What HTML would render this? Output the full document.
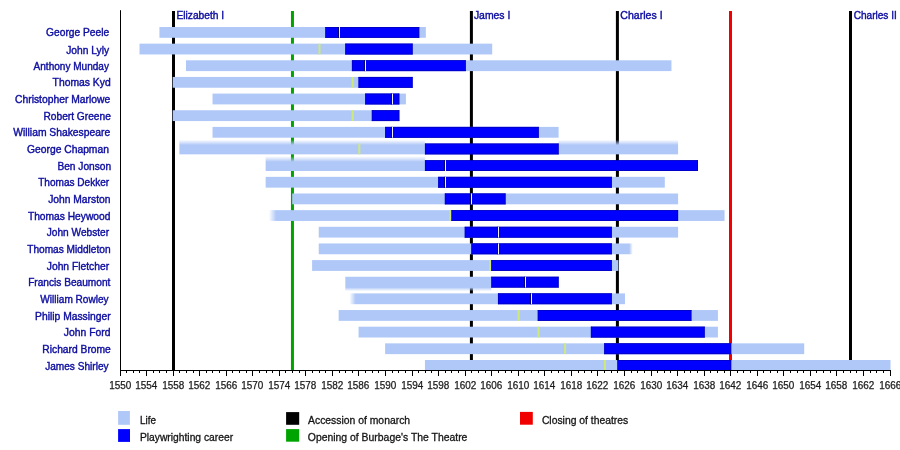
<!DOCTYPE html><html><head><meta charset="utf-8"><title>Playwrights timeline</title><style>
html,body{margin:0;padding:0;background:#fff;width:900px;height:450px;overflow:hidden;position:relative}
svg{display:block}
.tx{position:absolute;left:0;top:0;will-change:transform}
text{font-family:"Liberation Sans",Arial,Helvetica,sans-serif;font-size:10.3px}
.nm{fill:#0e0ea0;stroke:#0e0ea0;stroke-width:0.4px;text-anchor:end}
.mo{fill:#0e0ea0;stroke:#0e0ea0;stroke-width:0.4px}
.ax{fill:#1a1a1a;stroke:#1a1a1a;stroke-width:0.25px;text-anchor:middle;font-size:10.2px}
.lg{fill:#151515;stroke:#151515;stroke-width:0.3px}
</style></head><body>
<svg width="900" height="450" viewBox="0 0 900 450">
<defs>
<linearGradient id="fT" x1="0" y1="0" x2="0" y2="1"><stop offset="0" stop-color="#b0c8f8" stop-opacity="0"/><stop offset="1" stop-color="#b0c8f8" stop-opacity="1"/></linearGradient>
<linearGradient id="fB" x1="0" y1="0" x2="0" y2="1"><stop offset="0" stop-color="#b0c8f8" stop-opacity="1"/><stop offset="1" stop-color="#b0c8f8" stop-opacity="0"/></linearGradient>
<linearGradient id="fL" x1="0" y1="0" x2="1" y2="0"><stop offset="0" stop-color="#b0c8f8" stop-opacity="0"/><stop offset="1" stop-color="#b0c8f8" stop-opacity="1"/></linearGradient>
<linearGradient id="fR" x1="0" y1="0" x2="1" y2="0"><stop offset="0" stop-color="#b0c8f8" stop-opacity="1"/><stop offset="1" stop-color="#b0c8f8" stop-opacity="0"/></linearGradient>
</defs>
<rect width="900" height="450" fill="#fff"/>
<rect x="172.00" y="11.00" width="3" height="359.00" fill="#000"/>
<rect x="469.90" y="11.00" width="3" height="359.00" fill="#000"/>
<rect x="615.90" y="11.00" width="3" height="359.00" fill="#000"/>
<rect x="849.00" y="11.00" width="3" height="359.00" fill="#000"/>
<rect x="290.95" y="11.00" width="3" height="359.00" fill="#00a400"/>
<rect x="729.00" y="11.00" width="3" height="359.00" fill="#f00000"/>
<rect x="159.43" y="27.00" width="266.42" height="10.80" fill="#b0c8f8"/>
<rect x="325.38" y="27.00" width="93.83" height="10.80" fill="#0000ff"/>
<rect x="325.38" y="27.00" width="93.83" height="0.70" fill="#0000b4"/>
<rect x="325.38" y="37.10" width="93.83" height="0.70" fill="#0000b4"/>
<rect x="325.38" y="27.00" width="0.60" height="10.80" fill="#0000b4"/>
<rect x="418.51" y="27.00" width="0.70" height="10.80" fill="#0000b4"/>
<rect x="338.00" y="27.00" width="1.00" height="10.80" fill="#000070"/>
<rect x="339.00" y="27.00" width="1.00" height="10.80" fill="#f2f2ff"/>
<rect x="139.51" y="43.65" width="352.71" height="10.80" fill="#b0c8f8"/>
<rect x="318.49" y="43.65" width="2.00" height="10.80" fill="#cfe87c"/>
<rect x="345.29" y="43.65" width="67.28" height="10.80" fill="#0000ff"/>
<rect x="345.29" y="43.65" width="67.28" height="0.70" fill="#0000b4"/>
<rect x="345.29" y="53.75" width="67.28" height="0.70" fill="#0000b4"/>
<rect x="345.29" y="43.65" width="0.60" height="10.80" fill="#0000b4"/>
<rect x="411.87" y="43.65" width="0.70" height="10.80" fill="#0000b4"/>
<rect x="185.98" y="60.30" width="485.47" height="10.80" fill="#b0c8f8"/>
<rect x="351.93" y="60.30" width="113.74" height="10.80" fill="#0000ff"/>
<rect x="351.93" y="60.30" width="113.74" height="0.70" fill="#0000b4"/>
<rect x="351.93" y="70.40" width="113.74" height="0.70" fill="#0000b4"/>
<rect x="351.93" y="60.30" width="0.60" height="10.80" fill="#0000b4"/>
<rect x="464.97" y="60.30" width="0.70" height="10.80" fill="#0000b4"/>
<rect x="364.00" y="60.30" width="1.00" height="10.80" fill="#000070"/>
<rect x="365.00" y="60.30" width="1.00" height="10.80" fill="#f2f2ff"/>
<rect x="172.70" y="76.95" width="239.87" height="10.80" fill="#b0c8f8"/>
<rect x="351.68" y="76.95" width="2.00" height="10.80" fill="#cfe87c"/>
<rect x="358.57" y="76.95" width="54.00" height="10.80" fill="#0000ff"/>
<rect x="358.57" y="76.95" width="54.00" height="0.70" fill="#0000b4"/>
<rect x="358.57" y="87.05" width="54.00" height="0.70" fill="#0000b4"/>
<rect x="358.57" y="76.95" width="0.60" height="10.80" fill="#0000b4"/>
<rect x="411.87" y="76.95" width="0.70" height="10.80" fill="#0000b4"/>
<rect x="212.53" y="93.60" width="193.40" height="10.80" fill="#b0c8f8"/>
<rect x="365.20" y="93.60" width="34.09" height="10.80" fill="#0000ff"/>
<rect x="365.20" y="93.60" width="34.09" height="0.70" fill="#0000b4"/>
<rect x="365.20" y="103.70" width="34.09" height="0.70" fill="#0000b4"/>
<rect x="365.20" y="93.60" width="0.60" height="10.80" fill="#0000b4"/>
<rect x="398.59" y="93.60" width="0.70" height="10.80" fill="#0000b4"/>
<rect x="391.00" y="93.60" width="1.00" height="10.80" fill="#000070"/>
<rect x="392.00" y="93.60" width="1.00" height="10.80" fill="#f2f2ff"/>
<rect x="172.70" y="110.25" width="226.59" height="10.80" fill="#b0c8f8"/>
<rect x="351.68" y="110.25" width="2.00" height="10.80" fill="#cfe87c"/>
<rect x="371.84" y="110.25" width="27.45" height="10.80" fill="#0000ff"/>
<rect x="371.84" y="110.25" width="27.45" height="0.70" fill="#0000b4"/>
<rect x="371.84" y="120.35" width="27.45" height="0.70" fill="#0000b4"/>
<rect x="371.84" y="110.25" width="0.60" height="10.80" fill="#0000b4"/>
<rect x="398.59" y="110.25" width="0.70" height="10.80" fill="#0000b4"/>
<rect x="212.53" y="126.90" width="346.07" height="10.80" fill="#b0c8f8"/>
<rect x="385.12" y="126.90" width="153.57" height="10.80" fill="#0000ff"/>
<rect x="385.12" y="126.90" width="153.57" height="0.70" fill="#0000b4"/>
<rect x="385.12" y="137.00" width="153.57" height="0.70" fill="#0000b4"/>
<rect x="385.12" y="126.90" width="0.60" height="10.80" fill="#0000b4"/>
<rect x="537.99" y="126.90" width="0.70" height="10.80" fill="#0000b4"/>
<rect x="391.00" y="126.90" width="1.00" height="10.80" fill="#000070"/>
<rect x="392.00" y="126.90" width="1.00" height="10.80" fill="#f2f2ff"/>
<linearGradient id="g7" gradientUnits="userSpaceOnUse" x1="0" y1="139.80" x2="0" y2="145.00"><stop offset="0" stop-color="#b0c8f8" stop-opacity="0"/><stop offset="1" stop-color="#b0c8f8"/></linearGradient>
<rect x="179.34" y="139.80" width="245.60" height="14.55" fill="url(#g7)"/>
<rect x="558.60" y="139.80" width="119.48" height="14.55" fill="url(#g7)"/>
<rect x="358.32" y="143.55" width="2.00" height="10.80" fill="#cfe87c"/>
<rect x="424.94" y="143.55" width="133.66" height="10.80" fill="#0000ff"/>
<rect x="424.94" y="143.55" width="133.66" height="0.70" fill="#0000b4"/>
<rect x="424.94" y="153.65" width="133.66" height="0.70" fill="#0000b4"/>
<rect x="424.94" y="143.55" width="0.60" height="10.80" fill="#0000b4"/>
<rect x="557.90" y="143.55" width="0.70" height="10.80" fill="#0000b4"/>
<linearGradient id="g8" gradientUnits="userSpaceOnUse" x1="0" y1="156.20" x2="0" y2="161.80"><stop offset="0" stop-color="#b0c8f8" stop-opacity="0"/><stop offset="1" stop-color="#b0c8f8"/></linearGradient>
<rect x="265.63" y="156.20" width="159.31" height="14.80" fill="url(#g8)"/>
<rect x="424.94" y="160.20" width="273.06" height="10.80" fill="#0000ff"/>
<rect x="424.94" y="160.20" width="273.06" height="0.70" fill="#0000b4"/>
<rect x="424.94" y="170.30" width="273.06" height="0.70" fill="#0000b4"/>
<rect x="424.94" y="160.20" width="0.60" height="10.80" fill="#0000b4"/>
<rect x="697.30" y="160.20" width="0.70" height="10.80" fill="#0000b4"/>
<rect x="444.00" y="160.20" width="1.00" height="10.80" fill="#000070"/>
<rect x="445.00" y="160.20" width="1.00" height="10.80" fill="#f2f2ff"/>
<rect x="265.63" y="176.85" width="399.18" height="10.80" fill="#b0c8f8"/>
<rect x="438.22" y="176.85" width="173.49" height="10.80" fill="#0000ff"/>
<rect x="438.22" y="176.85" width="173.49" height="0.70" fill="#0000b4"/>
<rect x="438.22" y="186.95" width="173.49" height="0.70" fill="#0000b4"/>
<rect x="438.22" y="176.85" width="0.60" height="10.80" fill="#0000b4"/>
<rect x="611.01" y="176.85" width="0.70" height="10.80" fill="#0000b4"/>
<rect x="444.00" y="176.85" width="1.00" height="10.80" fill="#000070"/>
<rect x="445.00" y="176.85" width="1.00" height="10.80" fill="#f2f2ff"/>
<rect x="292.19" y="193.50" width="385.90" height="10.80" fill="#b0c8f8"/>
<rect x="444.86" y="193.50" width="60.64" height="10.80" fill="#0000ff"/>
<rect x="444.86" y="193.50" width="60.64" height="0.70" fill="#0000b4"/>
<rect x="444.86" y="203.60" width="60.64" height="0.70" fill="#0000b4"/>
<rect x="444.86" y="193.50" width="0.60" height="10.80" fill="#0000b4"/>
<rect x="504.80" y="193.50" width="0.70" height="10.80" fill="#0000b4"/>
<rect x="470.00" y="193.50" width="1.00" height="10.80" fill="#000070"/>
<rect x="471.00" y="193.50" width="1.00" height="10.80" fill="#f2f2ff"/>
<linearGradient id="g11" gradientUnits="userSpaceOnUse" x1="268.90" y1="0" x2="276.10" y2="0"><stop offset="0" stop-color="#b0c8f8" stop-opacity="0"/><stop offset="1" stop-color="#b0c8f8"/></linearGradient>
<rect x="268.90" y="210.15" width="455.65" height="10.80" fill="url(#g11)"/>
<rect x="449.50" y="210.15" width="2.00" height="10.80" fill="#cfe87c"/>
<rect x="451.50" y="210.15" width="226.59" height="10.80" fill="#0000ff"/>
<rect x="451.50" y="210.15" width="226.59" height="0.70" fill="#0000b4"/>
<rect x="451.50" y="220.25" width="226.59" height="0.70" fill="#0000b4"/>
<rect x="451.50" y="210.15" width="0.60" height="10.80" fill="#0000b4"/>
<rect x="677.39" y="210.15" width="0.70" height="10.80" fill="#0000b4"/>
<rect x="318.74" y="226.80" width="359.35" height="10.80" fill="#b0c8f8"/>
<rect x="464.77" y="226.80" width="146.93" height="10.80" fill="#0000ff"/>
<rect x="464.77" y="226.80" width="146.93" height="0.70" fill="#0000b4"/>
<rect x="464.77" y="236.90" width="146.93" height="0.70" fill="#0000b4"/>
<rect x="464.77" y="226.80" width="0.60" height="10.80" fill="#0000b4"/>
<rect x="611.01" y="226.80" width="0.70" height="10.80" fill="#0000b4"/>
<rect x="497.00" y="226.80" width="1.00" height="10.80" fill="#000070"/>
<rect x="498.00" y="226.80" width="1.00" height="10.80" fill="#f2f2ff"/>
<linearGradient id="g13" gradientUnits="userSpaceOnUse" x1="629.20" y1="0" x2="632.80" y2="0"><stop offset="0" stop-color="#b0c8f8"/><stop offset="1" stop-color="#b0c8f8" stop-opacity="0"/></linearGradient>
<rect x="318.74" y="243.45" width="314.06" height="10.80" fill="url(#g13)"/>
<rect x="471.41" y="243.45" width="140.30" height="10.80" fill="#0000ff"/>
<rect x="471.41" y="243.45" width="140.30" height="0.70" fill="#0000b4"/>
<rect x="471.41" y="253.55" width="140.30" height="0.70" fill="#0000b4"/>
<rect x="471.41" y="243.45" width="0.60" height="10.80" fill="#0000b4"/>
<rect x="611.01" y="243.45" width="0.70" height="10.80" fill="#0000b4"/>
<rect x="497.00" y="243.45" width="1.00" height="10.80" fill="#000070"/>
<rect x="498.00" y="243.45" width="1.00" height="10.80" fill="#f2f2ff"/>
<rect x="312.10" y="260.10" width="306.24" height="10.80" fill="#b0c8f8"/>
<rect x="489.32" y="260.10" width="2.00" height="10.80" fill="#cfe87c"/>
<rect x="491.32" y="260.10" width="120.38" height="10.80" fill="#0000ff"/>
<rect x="491.32" y="260.10" width="120.38" height="0.70" fill="#0000b4"/>
<rect x="491.32" y="270.20" width="120.38" height="0.70" fill="#0000b4"/>
<rect x="491.32" y="260.10" width="0.60" height="10.80" fill="#0000b4"/>
<rect x="611.01" y="260.10" width="0.70" height="10.80" fill="#0000b4"/>
<linearGradient id="g15" gradientUnits="userSpaceOnUse" x1="0" y1="287.40" x2="0" y2="291.20"><stop offset="0" stop-color="#b0c8f8"/><stop offset="1" stop-color="#b0c8f8" stop-opacity="0"/></linearGradient>
<rect x="345.29" y="276.75" width="146.03" height="14.45" fill="url(#g15)"/>
<rect x="491.32" y="276.75" width="67.28" height="10.80" fill="#0000ff"/>
<rect x="491.32" y="276.75" width="67.28" height="0.70" fill="#0000b4"/>
<rect x="491.32" y="286.85" width="67.28" height="0.70" fill="#0000b4"/>
<rect x="491.32" y="276.75" width="0.60" height="10.80" fill="#0000b4"/>
<rect x="557.90" y="276.75" width="0.70" height="10.80" fill="#0000b4"/>
<rect x="524.00" y="276.75" width="1.00" height="10.80" fill="#000070"/>
<rect x="525.00" y="276.75" width="1.00" height="10.80" fill="#f2f2ff"/>
<linearGradient id="g16" gradientUnits="userSpaceOnUse" x1="349.40" y1="0" x2="355.60" y2="0"><stop offset="0" stop-color="#b0c8f8" stop-opacity="0"/><stop offset="1" stop-color="#b0c8f8"/></linearGradient>
<rect x="349.40" y="293.40" width="275.58" height="10.80" fill="url(#g16)"/>
<rect x="497.96" y="293.40" width="113.74" height="10.80" fill="#0000ff"/>
<rect x="497.96" y="293.40" width="113.74" height="0.70" fill="#0000b4"/>
<rect x="497.96" y="303.50" width="113.74" height="0.70" fill="#0000b4"/>
<rect x="497.96" y="293.40" width="0.60" height="10.80" fill="#0000b4"/>
<rect x="611.01" y="293.40" width="0.70" height="10.80" fill="#0000b4"/>
<rect x="530.00" y="293.40" width="1.00" height="10.80" fill="#000070"/>
<rect x="531.00" y="293.40" width="1.00" height="10.80" fill="#f2f2ff"/>
<rect x="338.65" y="310.05" width="379.26" height="10.80" fill="#b0c8f8"/>
<rect x="517.63" y="310.05" width="2.00" height="10.80" fill="#cfe87c"/>
<rect x="537.79" y="310.05" width="153.57" height="10.80" fill="#0000ff"/>
<rect x="537.79" y="310.05" width="153.57" height="0.70" fill="#0000b4"/>
<rect x="537.79" y="320.15" width="153.57" height="0.70" fill="#0000b4"/>
<rect x="537.79" y="310.05" width="0.60" height="10.80" fill="#0000b4"/>
<rect x="690.66" y="310.05" width="0.70" height="10.80" fill="#0000b4"/>
<rect x="358.57" y="326.70" width="359.35" height="10.80" fill="#b0c8f8"/>
<rect x="537.54" y="326.70" width="2.00" height="10.80" fill="#cfe87c"/>
<rect x="590.89" y="326.70" width="113.74" height="10.80" fill="#0000ff"/>
<rect x="590.89" y="326.70" width="113.74" height="0.70" fill="#0000b4"/>
<rect x="590.89" y="336.80" width="113.74" height="0.70" fill="#0000b4"/>
<rect x="590.89" y="326.70" width="0.60" height="10.80" fill="#0000b4"/>
<rect x="703.94" y="326.70" width="0.70" height="10.80" fill="#0000b4"/>
<rect x="385.12" y="343.35" width="419.09" height="10.80" fill="#b0c8f8"/>
<rect x="564.09" y="343.35" width="2.00" height="10.80" fill="#cfe87c"/>
<rect x="604.17" y="343.35" width="127.02" height="10.80" fill="#0000ff"/>
<rect x="604.17" y="343.35" width="127.02" height="0.70" fill="#0000b4"/>
<rect x="604.17" y="353.45" width="127.02" height="0.70" fill="#0000b4"/>
<rect x="604.17" y="343.35" width="0.60" height="10.80" fill="#0000b4"/>
<rect x="730.49" y="343.35" width="0.70" height="10.80" fill="#0000b4"/>
<rect x="424.94" y="360.00" width="465.56" height="10.80" fill="#b0c8f8"/>
<rect x="603.92" y="360.00" width="2.00" height="10.80" fill="#cfe87c"/>
<rect x="617.44" y="360.00" width="113.74" height="10.80" fill="#0000ff"/>
<rect x="617.44" y="360.00" width="113.74" height="0.70" fill="#0000b4"/>
<rect x="617.44" y="370.10" width="113.74" height="0.70" fill="#0000b4"/>
<rect x="617.44" y="360.00" width="0.60" height="10.80" fill="#0000b4"/>
<rect x="730.49" y="360.00" width="0.70" height="10.80" fill="#0000b4"/>
<rect x="120.00" y="10.20" width="1.00" height="360.80" fill="#000"/>
<rect x="120.00" y="370.00" width="771.00" height="1.00" fill="#000"/>
<rect x="120" y="370" width="1" height="6" fill="#000"/>
<rect x="126" y="370" width="1" height="3" fill="#000"/>
<rect x="133" y="370" width="1" height="3" fill="#000"/>
<rect x="139" y="370" width="1" height="3" fill="#000"/>
<rect x="146" y="370" width="1" height="6" fill="#000"/>
<rect x="153" y="370" width="1" height="3" fill="#000"/>
<rect x="159" y="370" width="1" height="3" fill="#000"/>
<rect x="166" y="370" width="1" height="3" fill="#000"/>
<rect x="173" y="370" width="1" height="6" fill="#000"/>
<rect x="179" y="370" width="1" height="3" fill="#000"/>
<rect x="186" y="370" width="1" height="3" fill="#000"/>
<rect x="193" y="370" width="1" height="3" fill="#000"/>
<rect x="199" y="370" width="1" height="6" fill="#000"/>
<rect x="206" y="370" width="1" height="3" fill="#000"/>
<rect x="212" y="370" width="1" height="3" fill="#000"/>
<rect x="219" y="370" width="1" height="3" fill="#000"/>
<rect x="226" y="370" width="1" height="6" fill="#000"/>
<rect x="232" y="370" width="1" height="3" fill="#000"/>
<rect x="239" y="370" width="1" height="3" fill="#000"/>
<rect x="246" y="370" width="1" height="3" fill="#000"/>
<rect x="252" y="370" width="1" height="6" fill="#000"/>
<rect x="259" y="370" width="1" height="3" fill="#000"/>
<rect x="266" y="370" width="1" height="3" fill="#000"/>
<rect x="272" y="370" width="1" height="3" fill="#000"/>
<rect x="279" y="370" width="1" height="6" fill="#000"/>
<rect x="285" y="370" width="1" height="3" fill="#000"/>
<rect x="292" y="370" width="1" height="3" fill="#000"/>
<rect x="299" y="370" width="1" height="3" fill="#000"/>
<rect x="305" y="370" width="1" height="6" fill="#000"/>
<rect x="312" y="370" width="1" height="3" fill="#000"/>
<rect x="319" y="370" width="1" height="3" fill="#000"/>
<rect x="325" y="370" width="1" height="3" fill="#000"/>
<rect x="332" y="370" width="1" height="6" fill="#000"/>
<rect x="339" y="370" width="1" height="3" fill="#000"/>
<rect x="345" y="370" width="1" height="3" fill="#000"/>
<rect x="352" y="370" width="1" height="3" fill="#000"/>
<rect x="358" y="370" width="1" height="6" fill="#000"/>
<rect x="365" y="370" width="1" height="3" fill="#000"/>
<rect x="372" y="370" width="1" height="3" fill="#000"/>
<rect x="378" y="370" width="1" height="3" fill="#000"/>
<rect x="385" y="370" width="1" height="6" fill="#000"/>
<rect x="392" y="370" width="1" height="3" fill="#000"/>
<rect x="398" y="370" width="1" height="3" fill="#000"/>
<rect x="405" y="370" width="1" height="3" fill="#000"/>
<rect x="412" y="370" width="1" height="6" fill="#000"/>
<rect x="418" y="370" width="1" height="3" fill="#000"/>
<rect x="425" y="370" width="1" height="3" fill="#000"/>
<rect x="431" y="370" width="1" height="3" fill="#000"/>
<rect x="438" y="370" width="1" height="6" fill="#000"/>
<rect x="445" y="370" width="1" height="3" fill="#000"/>
<rect x="451" y="370" width="1" height="3" fill="#000"/>
<rect x="458" y="370" width="1" height="3" fill="#000"/>
<rect x="465" y="370" width="1" height="6" fill="#000"/>
<rect x="471" y="370" width="1" height="3" fill="#000"/>
<rect x="478" y="370" width="1" height="3" fill="#000"/>
<rect x="485" y="370" width="1" height="3" fill="#000"/>
<rect x="491" y="370" width="1" height="6" fill="#000"/>
<rect x="498" y="370" width="1" height="3" fill="#000"/>
<rect x="505" y="370" width="1" height="3" fill="#000"/>
<rect x="511" y="370" width="1" height="3" fill="#000"/>
<rect x="518" y="370" width="1" height="6" fill="#000"/>
<rect x="524" y="370" width="1" height="3" fill="#000"/>
<rect x="531" y="370" width="1" height="3" fill="#000"/>
<rect x="538" y="370" width="1" height="3" fill="#000"/>
<rect x="544" y="370" width="1" height="6" fill="#000"/>
<rect x="551" y="370" width="1" height="3" fill="#000"/>
<rect x="558" y="370" width="1" height="3" fill="#000"/>
<rect x="564" y="370" width="1" height="3" fill="#000"/>
<rect x="571" y="370" width="1" height="6" fill="#000"/>
<rect x="578" y="370" width="1" height="3" fill="#000"/>
<rect x="584" y="370" width="1" height="3" fill="#000"/>
<rect x="591" y="370" width="1" height="3" fill="#000"/>
<rect x="597" y="370" width="1" height="6" fill="#000"/>
<rect x="604" y="370" width="1" height="3" fill="#000"/>
<rect x="611" y="370" width="1" height="3" fill="#000"/>
<rect x="617" y="370" width="1" height="3" fill="#000"/>
<rect x="624" y="370" width="1" height="6" fill="#000"/>
<rect x="631" y="370" width="1" height="3" fill="#000"/>
<rect x="637" y="370" width="1" height="3" fill="#000"/>
<rect x="644" y="370" width="1" height="3" fill="#000"/>
<rect x="651" y="370" width="1" height="6" fill="#000"/>
<rect x="657" y="370" width="1" height="3" fill="#000"/>
<rect x="664" y="370" width="1" height="3" fill="#000"/>
<rect x="670" y="370" width="1" height="3" fill="#000"/>
<rect x="677" y="370" width="1" height="6" fill="#000"/>
<rect x="684" y="370" width="1" height="3" fill="#000"/>
<rect x="690" y="370" width="1" height="3" fill="#000"/>
<rect x="697" y="370" width="1" height="3" fill="#000"/>
<rect x="704" y="370" width="1" height="6" fill="#000"/>
<rect x="710" y="370" width="1" height="3" fill="#000"/>
<rect x="717" y="370" width="1" height="3" fill="#000"/>
<rect x="724" y="370" width="1" height="3" fill="#000"/>
<rect x="730" y="370" width="1" height="6" fill="#000"/>
<rect x="737" y="370" width="1" height="3" fill="#000"/>
<rect x="743" y="370" width="1" height="3" fill="#000"/>
<rect x="750" y="370" width="1" height="3" fill="#000"/>
<rect x="757" y="370" width="1" height="6" fill="#000"/>
<rect x="763" y="370" width="1" height="3" fill="#000"/>
<rect x="770" y="370" width="1" height="3" fill="#000"/>
<rect x="777" y="370" width="1" height="3" fill="#000"/>
<rect x="783" y="370" width="1" height="6" fill="#000"/>
<rect x="790" y="370" width="1" height="3" fill="#000"/>
<rect x="797" y="370" width="1" height="3" fill="#000"/>
<rect x="803" y="370" width="1" height="3" fill="#000"/>
<rect x="810" y="370" width="1" height="6" fill="#000"/>
<rect x="816" y="370" width="1" height="3" fill="#000"/>
<rect x="823" y="370" width="1" height="3" fill="#000"/>
<rect x="830" y="370" width="1" height="3" fill="#000"/>
<rect x="836" y="370" width="1" height="6" fill="#000"/>
<rect x="843" y="370" width="1" height="3" fill="#000"/>
<rect x="850" y="370" width="1" height="3" fill="#000"/>
<rect x="856" y="370" width="1" height="3" fill="#000"/>
<rect x="863" y="370" width="1" height="6" fill="#000"/>
<rect x="870" y="370" width="1" height="3" fill="#000"/>
<rect x="876" y="370" width="1" height="3" fill="#000"/>
<rect x="883" y="370" width="1" height="3" fill="#000"/>
<rect x="890" y="370" width="1" height="6" fill="#000"/>
<rect x="118.1" y="411.0" width="11.8" height="13.8" fill="#b0c8f8"/>
<rect x="118.1" y="429.1" width="11.9" height="12.8" fill="#0000ff"/>
<rect x="286.1" y="412.1" width="13.1" height="12.7" fill="#000"/>
<rect x="286.1" y="429.1" width="13.1" height="12.6" fill="#00a400"/>
<rect x="520.0" y="411.9" width="12.8" height="12.8" fill="#f00000"/>
</svg>
<svg class="tx" width="900" height="450" viewBox="0 0 900 450">
<text class="mo" x="176.43" y="19.00" textLength="47.76" lengthAdjust="spacingAndGlyphs" style="text-anchor:start">Elizabeth I</text>
<text class="mo" x="473.91" y="18.90" textLength="36.42" lengthAdjust="spacingAndGlyphs" style="text-anchor:start">James I</text>
<text class="mo" x="620.37" y="18.95" textLength="42.21" lengthAdjust="spacingAndGlyphs" style="text-anchor:start">Charles I</text>
<text class="mo" x="853.68" y="18.95" textLength="43.15" lengthAdjust="spacingAndGlyphs" style="text-anchor:start">Charles II</text>
<text class="nm" x="46.05" y="35.90" textLength="63.11" lengthAdjust="spacingAndGlyphs" style="text-anchor:start">George Peele</text>
<text class="nm" x="66.21" y="53.50" textLength="42.92" lengthAdjust="spacingAndGlyphs" style="text-anchor:start">John Lyly</text>
<text class="nm" x="33.58" y="69.90" textLength="75.32" lengthAdjust="spacingAndGlyphs" style="text-anchor:start">Anthony Munday</text>
<text class="nm" x="52.61" y="85.90" textLength="58.03" lengthAdjust="spacingAndGlyphs" style="text-anchor:start">Thomas Kyd</text>
<text class="nm" x="15.05" y="103.30" textLength="95.13" lengthAdjust="spacingAndGlyphs" style="text-anchor:start">Christopher Marlowe</text>
<text class="nm" x="43.43" y="119.90" textLength="67.46" lengthAdjust="spacingAndGlyphs" style="text-anchor:start">Robert Greene</text>
<text class="nm" x="13.28" y="135.90" textLength="96.85" lengthAdjust="spacingAndGlyphs" style="text-anchor:start">William Shakespeare</text>
<text class="nm" x="27.05" y="152.90" textLength="81.85" lengthAdjust="spacingAndGlyphs" style="text-anchor:start">George Chapman</text>
<text class="nm" x="57.43" y="169.90" textLength="53.70" lengthAdjust="spacingAndGlyphs" style="text-anchor:start">Ben Jonson</text>
<text class="nm" x="38.23" y="185.90" textLength="70.89" lengthAdjust="spacingAndGlyphs" style="text-anchor:start">Thomas Dekker</text>
<text class="nm" x="48.19" y="202.90" textLength="62.23" lengthAdjust="spacingAndGlyphs" style="text-anchor:start">John Marston</text>
<text class="nm" x="27.92" y="219.90" textLength="82.43" lengthAdjust="spacingAndGlyphs" style="text-anchor:start">Thomas Heywood</text>
<text class="nm" x="46.80" y="235.90" textLength="62.25" lengthAdjust="spacingAndGlyphs" style="text-anchor:start">John Webster</text>
<text class="nm" x="27.22" y="252.90" textLength="83.29" lengthAdjust="spacingAndGlyphs" style="text-anchor:start">Thomas Middleton</text>
<text class="nm" x="46.79" y="269.90" textLength="62.32" lengthAdjust="spacingAndGlyphs" style="text-anchor:start">John Fletcher</text>
<text class="nm" x="28.13" y="285.90" textLength="82.28" lengthAdjust="spacingAndGlyphs" style="text-anchor:start">Francis Beaumont</text>
<text class="nm" x="40.37" y="302.90" textLength="68.20" lengthAdjust="spacingAndGlyphs" style="text-anchor:start">William Rowley</text>
<text class="nm" x="35.12" y="319.90" textLength="75.54" lengthAdjust="spacingAndGlyphs" style="text-anchor:start">Philip Massinger</text>
<text class="nm" x="63.88" y="335.90" textLength="46.54" lengthAdjust="spacingAndGlyphs" style="text-anchor:start">John Ford</text>
<text class="nm" x="42.33" y="352.90" textLength="68.47" lengthAdjust="spacingAndGlyphs" style="text-anchor:start">Richard Brome</text>
<text class="nm" x="45.20" y="369.50" textLength="63.37" lengthAdjust="spacingAndGlyphs" style="text-anchor:start">James Shirley</text>
<text class="ax" x="120.30" y="388.6" textLength="22.1" lengthAdjust="spacingAndGlyphs">1550</text>
<text class="ax" x="146.30" y="388.6" textLength="22.1" lengthAdjust="spacingAndGlyphs">1554</text>
<text class="ax" x="173.30" y="388.6" textLength="22.1" lengthAdjust="spacingAndGlyphs">1558</text>
<text class="ax" x="199.30" y="388.6" textLength="22.1" lengthAdjust="spacingAndGlyphs">1562</text>
<text class="ax" x="226.30" y="388.6" textLength="22.1" lengthAdjust="spacingAndGlyphs">1566</text>
<text class="ax" x="252.30" y="388.6" textLength="22.1" lengthAdjust="spacingAndGlyphs">1570</text>
<text class="ax" x="279.30" y="388.6" textLength="22.1" lengthAdjust="spacingAndGlyphs">1574</text>
<text class="ax" x="305.30" y="388.6" textLength="22.1" lengthAdjust="spacingAndGlyphs">1578</text>
<text class="ax" x="332.30" y="388.6" textLength="22.1" lengthAdjust="spacingAndGlyphs">1582</text>
<text class="ax" x="358.30" y="388.6" textLength="22.1" lengthAdjust="spacingAndGlyphs">1586</text>
<text class="ax" x="385.30" y="388.6" textLength="22.1" lengthAdjust="spacingAndGlyphs">1590</text>
<text class="ax" x="412.30" y="388.6" textLength="22.1" lengthAdjust="spacingAndGlyphs">1594</text>
<text class="ax" x="438.30" y="388.6" textLength="22.1" lengthAdjust="spacingAndGlyphs">1598</text>
<text class="ax" x="465.30" y="388.6" textLength="22.1" lengthAdjust="spacingAndGlyphs">1602</text>
<text class="ax" x="491.30" y="388.6" textLength="22.1" lengthAdjust="spacingAndGlyphs">1606</text>
<text class="ax" x="518.30" y="388.6" textLength="22.1" lengthAdjust="spacingAndGlyphs">1610</text>
<text class="ax" x="544.30" y="388.6" textLength="22.1" lengthAdjust="spacingAndGlyphs">1614</text>
<text class="ax" x="571.30" y="388.6" textLength="22.1" lengthAdjust="spacingAndGlyphs">1618</text>
<text class="ax" x="597.30" y="388.6" textLength="22.1" lengthAdjust="spacingAndGlyphs">1622</text>
<text class="ax" x="624.30" y="388.6" textLength="22.1" lengthAdjust="spacingAndGlyphs">1626</text>
<text class="ax" x="651.30" y="388.6" textLength="22.1" lengthAdjust="spacingAndGlyphs">1630</text>
<text class="ax" x="677.30" y="388.6" textLength="22.1" lengthAdjust="spacingAndGlyphs">1634</text>
<text class="ax" x="704.30" y="388.6" textLength="22.1" lengthAdjust="spacingAndGlyphs">1638</text>
<text class="ax" x="730.30" y="388.6" textLength="22.1" lengthAdjust="spacingAndGlyphs">1642</text>
<text class="ax" x="757.30" y="388.6" textLength="22.1" lengthAdjust="spacingAndGlyphs">1646</text>
<text class="ax" x="783.30" y="388.6" textLength="22.1" lengthAdjust="spacingAndGlyphs">1650</text>
<text class="ax" x="810.30" y="388.6" textLength="22.1" lengthAdjust="spacingAndGlyphs">1654</text>
<text class="ax" x="836.30" y="388.6" textLength="22.1" lengthAdjust="spacingAndGlyphs">1658</text>
<text class="ax" x="863.30" y="388.6" textLength="22.1" lengthAdjust="spacingAndGlyphs">1662</text>
<text class="ax" x="890.30" y="388.6" textLength="22.1" lengthAdjust="spacingAndGlyphs">1666</text>
<text class="lg" x="139.99" y="424.00" textLength="15.94" lengthAdjust="spacingAndGlyphs" style="text-anchor:start">Life</text>
<text class="lg" x="139.94" y="440.80" textLength="93.13" lengthAdjust="spacingAndGlyphs" style="text-anchor:start">Playwrighting career</text>
<text class="lg" x="308.05" y="424.30" textLength="102.05" lengthAdjust="spacingAndGlyphs" style="text-anchor:start">Accession of monarch</text>
<text class="lg" x="307.80" y="440.60" textLength="159.62" lengthAdjust="spacingAndGlyphs" style="text-anchor:start">Opening of Burbage's The Theatre</text>
<text class="lg" x="541.90" y="424.10" textLength="86.35" lengthAdjust="spacingAndGlyphs" style="text-anchor:start">Closing of theatres</text>
</svg></body></html>
